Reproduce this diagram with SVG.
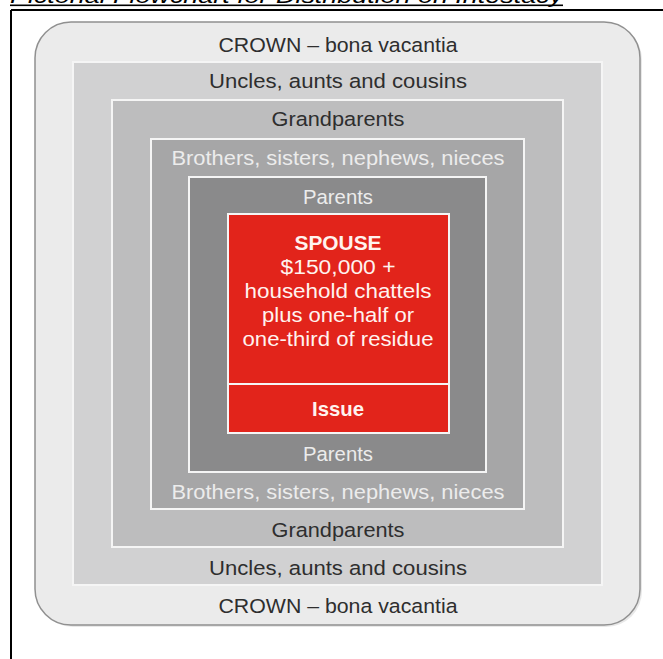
<svg xmlns="http://www.w3.org/2000/svg" width="663" height="659" viewBox="0 0 663 659">
<style>
.t{font-family:"Liberation Sans",Arial,sans-serif;font-size:20.5px;text-anchor:middle}
.dk{fill:#2e2e2e}
.lt{fill:#ececec}
.wt{fill:#fff3ef}
.b{font-weight:bold}
.lvl{stroke:#f5f5f5;stroke-width:2}
</style>
<rect width="663" height="659" fill="#ffffff"/>
<text x="10" y="3" font-family="'Liberation Sans',Arial,sans-serif" font-style="italic" font-size="21" textLength="553" lengthAdjust="spacingAndGlyphs" fill="#000">Pictorial Flowchart for Distribution on Intestacy</text>
<rect x="10" y="4.5" width="553" height="1.6" fill="#000"/>
<g id="frame">
<line x1="11" y1="10" x2="663" y2="10" stroke="#000" stroke-width="2"/>
<line x1="11" y1="10" x2="11" y2="659" stroke="#000" stroke-width="2"/>
</g>
<g id="crown">
<rect x="37" y="24" width="605" height="603" rx="36" fill="#d8d8d8" opacity="0.6"/>
<rect x="35" y="22" width="605" height="603" rx="36" fill="#ebebeb" stroke="#909090" stroke-width="1.5"/>
<text class="t dk" x="338" y="52" textLength="239" lengthAdjust="spacingAndGlyphs">CROWN – bona vacantia</text>
<text class="t dk" x="338" y="613" textLength="239" lengthAdjust="spacingAndGlyphs">CROWN – bona vacantia</text>
</g>
<g id="uncles">
<rect class="lvl" x="73" y="62" width="529" height="523" fill="#d1d1d2"/>
<text class="t dk" x="338" y="88" textLength="258" lengthAdjust="spacingAndGlyphs">Uncles, aunts and cousins</text>
<text class="t dk" x="338" y="575" textLength="258" lengthAdjust="spacingAndGlyphs">Uncles, aunts and cousins</text>
</g>
<g id="grandparents">
<rect class="lvl" x="112" y="100" width="451" height="447" fill="#bdbdbe"/>
<text class="t dk" x="338" y="126" textLength="133" lengthAdjust="spacingAndGlyphs">Grandparents</text>
<text class="t dk" x="338" y="537" textLength="133" lengthAdjust="spacingAndGlyphs">Grandparents</text>
</g>
<g id="siblings">
<rect class="lvl" x="151" y="139" width="373" height="370" fill="#a6a6a7"/>
<text class="t lt" x="338" y="165" textLength="333" lengthAdjust="spacingAndGlyphs">Brothers, sisters, nephews, nieces</text>
<text class="t lt" x="338" y="499" textLength="333" lengthAdjust="spacingAndGlyphs">Brothers, sisters, nephews, nieces</text>
</g>
<g id="parents">
<rect class="lvl" x="189" y="177" width="297" height="295" fill="#8a8a8b"/>
<text class="t lt" x="338" y="204" textLength="70" lengthAdjust="spacingAndGlyphs">Parents</text>
<text class="t lt" x="338" y="461" textLength="70" lengthAdjust="spacingAndGlyphs">Parents</text>
</g>
<g id="spouse">
<rect class="lvl" x="228" y="214" width="221" height="170" fill="#e2241b"/>
<text class="t wt b" x="338" y="250" textLength="87" lengthAdjust="spacingAndGlyphs">SPOUSE</text>
<text class="t wt" x="338" y="274" textLength="115" lengthAdjust="spacingAndGlyphs">$150,000 +</text>
<text class="t wt" x="338" y="298" textLength="187" lengthAdjust="spacingAndGlyphs">household chattels</text>
<text class="t wt" x="338" y="322" textLength="152" lengthAdjust="spacingAndGlyphs">plus one-half or</text>
<text class="t wt" x="338" y="346" textLength="191" lengthAdjust="spacingAndGlyphs">one-third of residue</text>
</g>
<g id="issue">
<rect class="lvl" x="228" y="384" width="221" height="49" fill="#e2241b"/>
<text class="t wt b" x="338" y="416" textLength="52" lengthAdjust="spacingAndGlyphs">Issue</text>
</g>
<g id="connectors"></g>
</svg>
